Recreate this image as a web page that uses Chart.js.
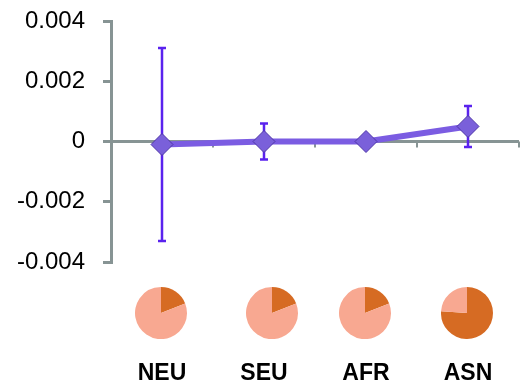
<!DOCTYPE html>
<html>
<head>
<meta charset="utf-8">
<script src="https://cdn.jsdelivr.net/npm/chart.js@4.4.1/dist/chart.umd.min.js"></script>
<style>
body { margin: 0; background: #fff; }
#wrap { position: relative; width: 531px; height: 388px; }
.pie { position: absolute; top: 287px; }
</style>
</head>
<body>
<div id="wrap">
    <canvas id="chartMain" width="531" height="388"></canvas>
    <canvas id="pie0" class="pie" width="52" height="52" style="left:135px"></canvas>
    <canvas id="pie1" class="pie" width="52" height="52" style="left:246px"></canvas>
    <canvas id="pie2" class="pie" width="52" height="52" style="left:339px"></canvas>
    <canvas id="pie3" class="pie" width="52" height="52" style="left:441px"></canvas>
</div>
<script>
const groups = ['NEU', 'SEU', 'AFR', 'ASN'];
const meanValues = [-0.0001, 0.0000, 0.0000, 0.0005];
const errorUpper = [0.0032, 0.0006, 0, 0.00068];
const errorLower = [0.0032, 0.0006, 0, 0.00068];
const yMin = -0.004;
const yMax = 0.004;
const yStep = 0.002;
const pieDark = [0.19, 0.19, 0.19, 0.76];
const pieLight = [0.81, 0.81, 0.81, 0.24];

const axisGray = '#879494';

// error bars behind the line, plus the little ticks on the zero line
const errorBars = {
    id: 'errorBars',
    beforeDatasetsDraw: function(chart) {
        const ctx = chart.ctx;
        const x = chart.scales.x;
        const y = chart.scales.y;
        const zero = y.getPixelForValue(0);
        ctx.save();
        ctx.strokeStyle = axisGray;
        ctx.lineWidth = 2;
        ctx.beginPath();
        for (let i = 1; i <= groups.length; i++) {
            const bx = x.getPixelForValue(i - 0.5);
            ctx.moveTo(bx, zero);
            ctx.lineTo(bx, zero + 6);
        }
        ctx.stroke();

        ctx.strokeStyle = '#5a22ee';
        ctx.lineWidth = 2.5;
        for (let i = 0; i < groups.length; i++) {
            if (errorUpper[i] === 0 && errorLower[i] === 0) continue;
            const px = x.getPixelForValue(i);
            const top = y.getPixelForValue(meanValues[i] + errorUpper[i]);
            const bot = y.getPixelForValue(meanValues[i] - errorLower[i]);
            ctx.beginPath();
            ctx.moveTo(px, top);
            ctx.lineTo(px, bot);
            ctx.moveTo(px - 4, top);
            ctx.lineTo(px + 4, top);
            ctx.moveTo(px - 4, bot);
            ctx.lineTo(px + 4, bot);
            ctx.stroke();
        }
        ctx.restore();
    }
};

new Chart(document.getElementById('chartMain'), {
    type: 'line',
    plugins: [errorBars],
    data: {
        labels: groups,
        datasets: [{
            data: meanValues,
            borderColor: '#7b5ce2',
            borderWidth: 6,
            tension: 0,
            pointStyle: 'rectRot',
            pointRadius: 11,
            pointBackgroundColor: '#7a60da',
            pointBorderColor: '#4e35a8',
            pointBorderWidth: 1
        }]
    },
    options: {
        responsive: false,
        animation: false,
        layout: {
            padding: { top: 21, right: 4 }
        },
        plugins: {
            legend: { display: false },
            tooltip: { enabled: false }
        },
        scales: {
            x: {
                offset: true,
                grid: { display: false, drawTicks: false },
                border: { display: false },
                ticks: {
                    color: '#000',
                    padding: 98,
                    font: { family: 'Liberation Sans', size: 23, weight: 'bold' }
                },
                afterFit: function(scale) {
                    scale.height = 126;
                    scale.paddingLeft = 0;
                    scale.paddingRight = 0;
                }
            },
            y: {
                min: yMin,
                max: yMax,
                ticks: {
                    stepSize: yStep,
                    color: '#000',
                    padding: 18,
                    font: { family: 'Liberation Sans', size: 24 },
                    callback: function(value) {
                        return Math.abs(value) < 1e-9 ? '0' : value.toFixed(3);
                    }
                },
                grid: {
                    drawOnChartArea: true,
                    tickLength: 8,
                    color: function(context) {
                        return Math.abs(context.tick.value) < 1e-9 ? axisGray : 'rgba(0,0,0,0)';
                    },
                    tickColor: axisGray,
                    lineWidth: 3
                },
                border: { color: axisGray, width: 3 },
                afterFit: function(scale) {
                    scale.width = 111;
                    scale.paddingTop = 0;
                    scale.paddingBottom = 0;
                }
            }
        }
    }
});

for (let i = 0; i < groups.length; i++) {
    new Chart(document.getElementById('pie' + i), {
        type: 'pie',
        data: {
            labels: ['dark', 'light'],
            datasets: [{
                data: [pieDark[i], pieLight[i]],
                backgroundColor: ['#d66b23', '#f8a891'],
                borderWidth: 0
            }]
        },
        options: {
            responsive: false,
            animation: false,
            plugins: {
                legend: { display: false },
                tooltip: { enabled: false }
            }
        }
    });
}
</script>
</body>
</html>
